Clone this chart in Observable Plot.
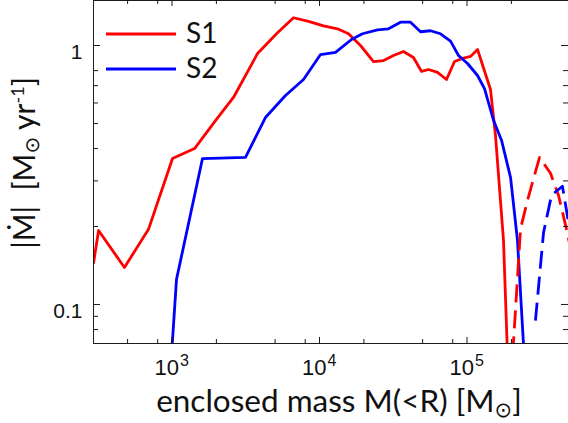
<!DOCTYPE html>
<html><head><meta charset="utf-8">
<script src="https://cdn.jsdelivr.net/npm/d3@7"></script>
<script src="https://cdn.jsdelivr.net/npm/@observablehq/plot@0.6"></script>
<style>body{margin:0;background:#fff}</style>
</head><body><div id="chart"></div>
<script>
// ---- data ----
const s1Mass = [294, 318, 476, 693, 1008, 1422, 1972, 2610, 3800, 5190, 6670, 8420, 10640, 13240, 15740, 18970, 23230, 27170, 31770, 37070, 43350, 49170, 54850, 63100, 72600, 82300, 93100, 105600, 117800, 144300, 156000, 176700, 191000];
const s1Rate = [0.145, 0.193, 0.139, 0.195, 0.366, 0.400, 0.513, 0.630, 0.931, 1.12, 1.28, 1.24, 1.19, 1.16, 1.11, 1.00, 0.867, 0.875, 0.915, 0.948, 0.899, 0.794, 0.808, 0.787, 0.739, 0.867, 0.891, 0.907, 0.965, 0.676, 0.449, 0.177, 0.05];
const s2Mass = [965, 1073, 1610, 3150, 4300, 5880, 7790, 10160, 12840, 16480, 19570, 24740, 29370, 35400, 41400, 48400, 56600, 66100, 77300, 87600, 100800, 117800, 131400, 151500, 171500, 197400, 219800, 250000];
const s2Rate = [0.05, 0.125, 0.366, 0.370, 0.527, 0.641, 0.739, 0.923, 0.940, 1.055, 1.11, 1.15, 1.16, 1.23, 1.23, 1.13, 1.14, 1.11, 1.04, 0.915, 0.852, 0.766, 0.682, 0.513, 0.430, 0.309, 0.177, 0.05];
// dashed continuations (sign change)
const s1DashMass = [199000, 230700, 257000, 282400, 310400, 368000, 417000, 480000, 520000];
const s1DashRate = [0.051, 0.1965, 0.252, 0.3066, 0.370, 0.321, 0.264, 0.188, 0.15];
const s2DashMass = [291000, 330300, 374000, 443500, 488000, 520000];
const s2DashRate = [0.0867, 0.1897, 0.264, 0.286, 0.207, 0.18];

const seriesNames = ["S1", "S2"];
const seriesColors = ["#ff0000", "#0000ff"];

const xDomain = [293.7, 487500];
const yDomain = [0.07068, 1.492];
const xMajorTicks = [1e3, 1e4, 1e5];
const xTickExponents = ["3", "4", "5"];
const xMinorTicks = [500, 800, 2000, 5000, 8000, 20000, 50000, 80000, 200000];
const yMajorTicks = [0.1, 1];
const yTickLabels = ["0.1", "1"];
const yMinorTicks = [0.08, 0.09, 0.2, 0.3, 0.4, 0.5, 0.6, 0.7, 0.8];

// ---- layout ----
const W = 568, H = 423, mL = 93, mR = 0, mT = 0, mB = 80;
const plotW = W - mL - mR, plotH = H - mT - mB;
const rows = (xs, ys) => xs.map((x, i) => ({x, y: ys[i]}));
const axisColor = "#1a1a1a";
const tickFont = "Liberation Sans, Arial, sans-serif";
const labelFont = "Lato, 'Open Sans', sans-serif";

const chart = Plot.plot({
  width: W, height: H,
  marginLeft: mL, marginRight: mR, marginTop: mT, marginBottom: mB,
  style: {background: "white", fontFamily: tickFont},
  x: {type: "log", domain: xDomain, axis: null},
  y: {type: "log", domain: yDomain, axis: null},
  marks: [
    Plot.line(rows(s1Mass, s1Rate), {x: "x", y: "y", stroke: seriesColors[0], strokeWidth: 2.8, clip: true}),
    Plot.line(rows(s2Mass, s2Rate), {x: "x", y: "y", stroke: seriesColors[1], strokeWidth: 2.8, clip: true}),
    Plot.line(rows(s1DashMass, s1DashRate), {x: "x", y: "y", stroke: seriesColors[0], strokeWidth: 2.8, strokeDasharray: "18,8", strokeLinecap: "butt", clip: true}),
    Plot.line(rows(s2DashMass, s2DashRate), {x: "x", y: "y", stroke: seriesColors[1], strokeWidth: 2.8, strokeDasharray: "18,8", strokeLinecap: "butt", clip: true}),
    Plot.frame({stroke: axisColor, strokeWidth: 1}),
    // x ticks bottom & top, inward
    Plot.tickX(xMajorTicks, {x: d => d, insetTop: plotH - 6, stroke: axisColor}),
    Plot.tickX(xMinorTicks, {x: d => d, insetTop: plotH - 4, stroke: axisColor}),
    Plot.tickX(xMajorTicks, {x: d => d, insetBottom: plotH - 6, stroke: axisColor}),
    Plot.tickX(xMinorTicks, {x: d => d, insetBottom: plotH - 4, stroke: axisColor}),
    // y ticks left & right, inward
    Plot.tickY(yMajorTicks, {y: d => d, insetRight: plotW - 7, stroke: axisColor}),
    Plot.tickY(yMinorTicks, {y: d => d, insetRight: plotW - 5, stroke: axisColor}),
    Plot.tickY(yMajorTicks, {y: d => d, insetLeft: plotW - 7, stroke: axisColor}),
    Plot.tickY(yMinorTicks, {y: d => d, insetLeft: plotW - 5, stroke: axisColor}),
    // x tick labels 10^n
    Plot.text(xMajorTicks, {x: d => d, frameAnchor: "bottom", text: () => "10", textAnchor: "end", lineAnchor: "bottom", dx: 7, dy: 31, fontSize: 22, fill: "#111"}),
    Plot.text(xMajorTicks, {x: d => d, frameAnchor: "bottom", text: (d, i) => xTickExponents[i], textAnchor: "start", lineAnchor: "bottom", dx: 8, dy: 22, fontSize: 16, fill: "#111"}),
    // y tick labels
    Plot.text(yMajorTicks, {y: d => d, frameAnchor: "left", text: (d, i) => yTickLabels[i], textAnchor: "end", dx: -11, dy: 7, fontSize: 21, fill: "#111"})
  ]
});
document.getElementById("chart").appendChild(chart);

const svg = d3.select(chart);
// legend
const leg = svg.append("g").attr("font-family", labelFont).attr("font-size", 28).attr("fill", "#111").attr("text-anchor", "start");
seriesNames.forEach((name, i) => {
  const cy = 34 + i * 35;
  leg.append("line").attr("x1", 106).attr("x2", 176).attr("y1", cy).attr("y2", cy)
    .attr("stroke", seriesColors[i]).attr("stroke-width", 3);
  leg.append("text").attr("x", 186).attr("y", cy + 9).attr("text-anchor", "start").text(name);
});

// x axis label
const xl = svg.append("text").attr("x", 339).attr("y", 412).attr("text-anchor", "middle")
  .attr("font-family", labelFont).attr("font-size", 31.5).attr("fill", "#111");
xl.append("tspan").text("enclosed mass M(<R) [M");
xl.append("tspan").attr("font-size", 21).attr("dy", 5).attr("font-family", "DejaVu Sans").text("\u2299");
xl.append("tspan").attr("dy", -5).text("]");

// y axis label
const yl = svg.append("text").attr("transform", "translate(35,163) rotate(-90)").attr("text-anchor", "middle")
  .attr("font-family", labelFont).attr("font-size", 30).attr("fill", "#111");
yl.append("tspan").text("|\u1E40|  [M");
yl.append("tspan").attr("font-size", 20).attr("dy", 4).attr("font-family", "DejaVu Sans").text("\u2299");
yl.append("tspan").attr("dy", -4).text(" yr");
yl.append("tspan").attr("font-size", 18).attr("dy", -11).text("-1");
yl.append("tspan").attr("dy", 11).text("]");
</script>
</body></html>
